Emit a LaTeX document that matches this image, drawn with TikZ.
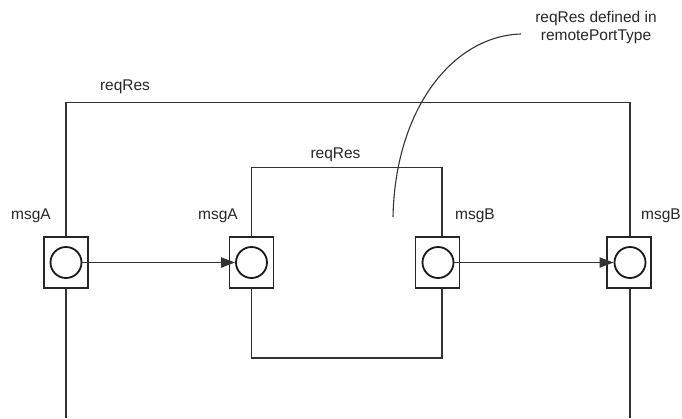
\documentclass[tikz,border=0pt]{standalone}
\usepackage{fontspec}
\setmainfont{Liberation Sans}
\usetikzlibrary{arrows.meta}
\begin{document}
\begin{tikzpicture}[x=1pt,y=-1pt,
  portbox/.style={draw=black!85, fill=white, line width=1.9pt, minimum width=44pt, minimum height=51pt, inner sep=0pt},
  portcirc/.style={draw=black!90, line width=1.8pt, circle, minimum size=31pt, inner sep=0pt},
  wire/.style={draw=black!80, line width=1.9pt},
  lbl/.style={font=\fontsize{15.5}{18}\selectfont, text=black!85, inner sep=0pt},
  flow/.style={wire, -{Triangle[length=14pt,width=10pt]}}]
\useasboundingbox (0,0) rectangle (682,418);
% port positions
\coordinate (q1) at (66,262.5);
\coordinate (q2) at (251.5,262.5);
\coordinate (q3) at (437.5,262.5);
\coordinate (q4) at (629,262.5);
% outer box (open at bottom)
\coordinate (ob1) at (66,418);
\coordinate (ob4) at (630,418);
\coordinate (ot1) at (66,102.5);
\coordinate (ot4) at (630,102.5);
\draw[wire] (ob1) -- (ot1) -- (ot4) -- (ob4);
% inner box
\coordinate (it1) at (251.5,167.5);
\coordinate (it3) at (442,167.5);
\coordinate (ib1) at (251.5,358);
\coordinate (ib3) at (442,358);
\draw[wire] (it1) -- (it3) -- (ib3) -- (ib1) -- cycle;
% ports
\node[portbox] (p1) at (q1) {};
\node[portcirc] (c1) at (q1) {};
\node[portbox] (p2) at (q2) {};
\node[portcirc] (c2) at (q2) {};
\node[portbox] (p3) at (q3) {};
\node[portcirc] (c3) at (438,262.5) {};
\node[portbox] (p4) at (q4) {};
\node[portcirc] (c4) at (630,262.5) {};
% flows
\draw[flow] (c1.east) -- (c2.west);
\draw[flow] (c3.east) -- (c4.west);
% labels
\node[lbl] (lo) at (125,87) {reqRes};
\node[lbl] (li) at (335.5,155) {reqRes};
\node[lbl] (m1) at (31,216) {msgA};
\node[lbl] (m2) at (218,216) {msgA};
\node[lbl] (m3) at (475,216) {msgB};
\node[lbl] (m4) at (661,216) {msgB};
\node[lbl, align=center] (note) at (596,27) {reqRes defined in\\remotePortType};
% annotation curve
\coordinate (cs) at (521,34);
\coordinate (ce) at (393,217);
\draw[black!80, line width=1.1pt] (cs) .. controls (452,36) and (395,110) .. (ce);
\end{tikzpicture}
\end{document}
